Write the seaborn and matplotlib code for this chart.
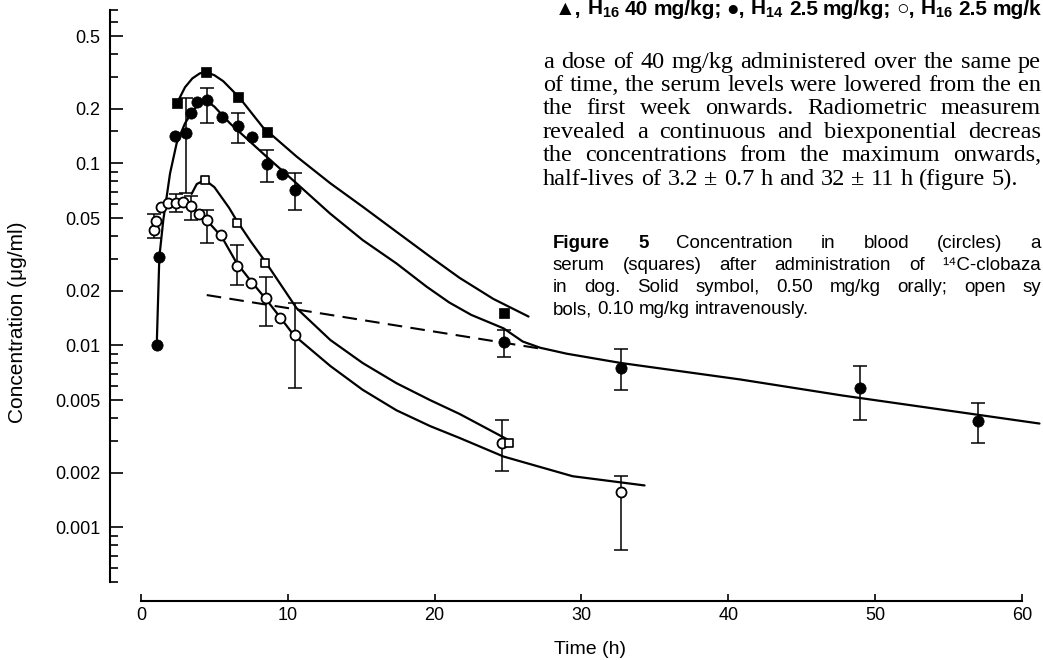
import numpy as np
import pandas as pd
import matplotlib
matplotlib.use("Agg")
import matplotlib.pyplot as plt
import seaborn as sns
from matplotlib.ticker import FixedLocator, FixedFormatter, NullFormatter

# ---------------- data ----------------
# observations: blood (circles) / serum (squares); oral = solid, iv = open
t_blood_oral = [1.07, 1.25, 2.32, 3.07, 3.39, 3.79, 4.48, 5.50, 6.63, 7.58, 8.56, 9.63, 10.50, 24.75, 32.70, 49.0, 57.0]
c_blood_oral = [0.0100, 0.0305, 0.141, 0.146, 0.188, 0.218, 0.223, 0.179, 0.160, 0.140, 0.099, 0.087, 0.0714, 0.0104, 0.00755, 0.0058, 0.00385]

t_serum_oral = [2.43, 4.41, 6.63, 8.60, 24.75]
c_serum_oral = [0.214, 0.319, 0.232, 0.148, 0.0150]

t_blood_iv = [0.89, 1.02, 1.34, 1.86, 2.38, 2.88, 3.39, 3.97, 4.48, 5.43, 6.52, 7.47, 8.49, 9.46, 10.49, 24.60, 32.70]
c_blood_iv = [0.043, 0.0484, 0.0573, 0.0608, 0.0603, 0.0615, 0.0582, 0.0527, 0.0488, 0.0404, 0.0272, 0.0221, 0.0181, 0.0142, 0.0114, 0.00292, 0.00156]

t_serum_iv = [4.36, 6.52, 8.45, 25.07]
c_serum_iv = [0.081, 0.0468, 0.0285, 0.00292]

# error bars (lower / upper limits)
eb_oral_t = [3.07, 4.48, 6.63, 8.56, 10.50, 24.75, 32.70, 49.0, 57.0]
eb_oral_mid = [0.146, 0.223, 0.160, 0.099, 0.0714, 0.0104, 0.00755, 0.0058, 0.00385]
eb_oral_lo = [0.069, 0.166, 0.129, 0.079, 0.0554, 0.0086, 0.0057, 0.0039, 0.0029]
eb_oral_hi = [0.230, 0.258, 0.188, 0.118, 0.088, 0.0122, 0.0096, 0.0077, 0.00484]

eb_iv_t = [0.89, 2.38, 3.39, 4.48, 6.52, 8.49, 10.49, 24.60, 32.70]
eb_iv_mid = [0.043, 0.0603, 0.0582, 0.0488, 0.0272, 0.0181, 0.0114, 0.00292, 0.00156]
eb_iv_lo = [0.039, 0.054, 0.049, 0.0364, 0.0214, 0.0127, 0.0058, 0.00205, 0.00075]
eb_iv_hi = [0.053, 0.068, 0.066, 0.0554, 0.0356, 0.0238, 0.0172, 0.00387, 0.00192]

# fitted curves (traced)
curve_serum_oral_t = [2.5, 3.0, 3.5, 4.0, 4.4, 5.0, 5.6, 6.7, 8.3, 10.6, 12.9, 15.1, 17.4, 19.7, 21.7, 24.0, 26.4]
curve_serum_oral_c = [0.218, 0.262, 0.293, 0.312, 0.318, 0.305, 0.283, 0.230, 0.158, 0.109, 0.0777, 0.0578, 0.0421, 0.0307, 0.0235, 0.0180, 0.0144]

curve_blood_oral_t = [1.07, 1.25, 1.52, 1.98, 2.43, 3.0, 3.56, 4.0, 4.41, 5.0, 6.06, 8.33, 10.6, 12.87, 15.1, 17.4,
                      19.46, 21.0, 22.5, 24.7, 26.0, 27.2, 29.0, 32.7, 40.8, 47.8, 61.2]
curve_blood_oral_c = [0.0098, 0.0305, 0.0488, 0.0881, 0.129, 0.166, 0.196, 0.213, 0.222, 0.205, 0.166, 0.113, 0.0776, 0.0531, 0.0379, 0.0282,
                      0.0210, 0.0172, 0.0147, 0.0124, 0.0105, 0.0097, 0.0090, 0.0080, 0.0065, 0.0053, 0.00372]

curve_blood_iv_t = [3.0, 3.4, 4.0, 4.5, 5.5, 6.5, 7.5, 8.5, 9.5, 10.4, 12.9, 15.1, 17.4, 19.7, 21.7, 24.7, 29.4, 34.3]
curve_blood_iv_c = [0.0612, 0.0585, 0.0527, 0.0485, 0.0395, 0.0285, 0.0225, 0.0180, 0.0142, 0.0114, 0.0077, 0.0057, 0.0044, 0.0036, 0.0031, 0.00245, 0.00191, 0.0017]

curve_serum_iv_t = [3.45, 3.8, 4.36, 5.0, 6.0, 6.52, 7.5, 8.45, 10.6, 12.9, 15.1, 17.4, 19.7, 21.7, 25.1]
curve_serum_iv_c = [0.068, 0.077, 0.081, 0.074, 0.057, 0.0485, 0.037, 0.0290, 0.0160, 0.0107, 0.0080, 0.0062, 0.0050, 0.0042, 0.0030]

dashed_t = [4.48, 27.2]
dashed_c = [0.0189, 0.0096]

ytick_vals = [0.5, 0.2, 0.1, 0.05, 0.02, 0.01, 0.005, 0.002, 0.001]
ytick_labels = ["0.5", "0.2", "0.1", "0.05", "0.02", "0.01", "0.005", "0.002", "0.001"]
yminor_vals = [0.7, 0.6, 0.4, 0.3, 0.15, 0.09, 0.08, 0.07, 0.06, 0.04, 0.03,
               0.009, 0.008, 0.007, 0.006, 0.004, 0.003,
               0.0009, 0.0008, 0.0007, 0.0006, 0.0005]
xtick_vals = [0, 10, 20, 30, 40, 50, 60]

x_label = "Time (h)"
y_label = "Concentration (μg/ml)"

top_line = "▲, H$_{16}$ 40 mg/kg; ●, H$_{14}$ 2.5 mg/kg; ○, H$_{16}$ 2.5 mg/k"
para_lines = [
    ("a dose of 40 mg/kg administered over the same pe", "end"),
    ("of time, the serum levels were lowered from the en", "end"),
    ("the first week onwards. Radiometric measurem", "end"),
    ("revealed a continuous and biexponential decreas", "end"),
    ("the concentrations from the maximum onwards,", "end"),
    ("half-lives of 3.2 ± 0.7 h and 32 ± 11 h (figure 5).", None),
]
caption_lines = [
    ("Figure 5 Concentration in blood (circles) a", "end"),
    ("serum (squares) after administration of ¹⁴C-clobaza", "end"),
    ("in dog. Solid symbol, 0.50 mg/kg orally; open sy", "end"),
    ("bols, 0.10 mg/kg intravenously.", None),
]

# ---------------- figure ----------------
W, H = 1043, 660
sns.set_theme(style="ticks")
plt.rcParams["font.family"] = ["Liberation Sans", "DejaVu Sans"]
plt.rcParams["mathtext.fontset"] = "custom"
plt.rcParams["mathtext.rm"] = "Liberation Sans:bold"
plt.rcParams["mathtext.it"] = "Liberation Sans:bold"
plt.rcParams["mathtext.bf"] = "Liberation Sans:bold"

fig = plt.figure(figsize=(W / 100, H / 100), dpi=100)
fig.patch.set_facecolor("white")
ax = fig.add_axes([110 / W, 59 / H, 933 / W, 601 / H])
ax.set_facecolor("white")
ax.set_yscale("log")

curves = pd.concat([
    pd.DataFrame({"t": curve_serum_oral_t, "c": curve_serum_oral_c, "curve": "serum_oral"}),
    pd.DataFrame({"t": curve_blood_oral_t, "c": curve_blood_oral_c, "curve": "blood_oral"}),
    pd.DataFrame({"t": curve_blood_iv_t, "c": curve_blood_iv_c, "curve": "blood_iv"}),
    pd.DataFrame({"t": curve_serum_iv_t, "c": curve_serum_iv_c, "curve": "serum_iv"}),
])
for name, sub in curves.groupby("curve"):
    sns.lineplot(data=sub, x="t", y="c", color="black", linewidth=1.6, sort=False,
                 estimator=None, ax=ax, zorder=2)
sns.lineplot(x=dashed_t, y=dashed_c, color="black", linewidth=1.5,
             linestyle=(0, (7, 4)), ax=ax, zorder=2)

def errbars(t, mid, lo, hi):
    mid = np.asarray(mid); lo = np.asarray(lo); hi = np.asarray(hi)
    ax.errorbar(t, mid, yerr=[mid - lo, hi - mid], fmt="none", ecolor="black",
                elinewidth=1.1, capsize=5, capthick=1.1, zorder=1)

errbars(eb_oral_t, eb_oral_mid, eb_oral_lo, eb_oral_hi)
errbars(eb_iv_t, eb_iv_mid, eb_iv_lo, eb_iv_hi)

sns.scatterplot(x=t_blood_oral, y=c_blood_oral, marker="o", s=66, color="black",
                edgecolor="black", linewidth=0.5, ax=ax, zorder=4)
sns.scatterplot(x=t_serum_oral, y=c_serum_oral, marker="s", s=46, color="black",
                edgecolor="black", linewidth=0.5, ax=ax, zorder=4)
sns.scatterplot(x=t_blood_iv, y=c_blood_iv, marker="o", s=52, color="white",
                edgecolor="black", linewidth=1.3, ax=ax, zorder=4)
sns.scatterplot(x=t_serum_iv, y=c_serum_iv, marker="s", s=40, color="white",
                edgecolor="black", linewidth=1.2, ax=ax, zorder=4)

ax.set_xlim(-2.11, 61.44)
ax.set_ylim(0.000394, 0.79)

ax.yaxis.set_major_locator(FixedLocator(ytick_vals))
ax.yaxis.set_major_formatter(FixedFormatter(ytick_labels))
ax.yaxis.set_minor_locator(FixedLocator(yminor_vals))
ax.yaxis.set_minor_formatter(NullFormatter())
ax.set_xticks(xtick_vals)
ax.set_xticklabels([str(v) for v in xtick_vals])
ax.xaxis.set_minor_locator(FixedLocator([]))

ax.tick_params(axis="y", which="major", direction="in", length=9, width=1.2,
               labelsize=13, pad=7, colors="black")
ax.tick_params(axis="y", which="minor", direction="in", length=6, width=1.2, colors="black")
ax.tick_params(axis="x", which="major", direction="in", length=5, width=1.2,
               labelsize=13, pad=4, colors="black")

for side in ("top", "right"):
    ax.spines[side].set_visible(False)
ax.spines["left"].set_bounds(0.0005, 0.7)
ax.spines["bottom"].set_bounds(0, 60)
for side in ("left", "bottom"):
    ax.spines[side].set_linewidth(1.5)
    ax.spines[side].set_color("black")

ax.set_xlabel(x_label, fontsize=14, color="black")
ax.set_ylabel(y_label, fontsize=15, color="black")
ax.xaxis.set_label_coords((590 - 110) / 933, -(641 - 601) / 601)
ax.yaxis.set_label_coords((27 - 110) / 933, (601 - 322) / 601)

# ---------------- page text ----------------
renderer = fig.canvas.get_renderer()
RIGHT = 1041

def place_line(text, mode, x0, y_base, size, family, bold_words=0):
    words = text.split(" ")
    objs = []
    for i, w in enumerate(words):
        objs.append(fig.text(0, 0, w, fontsize=size, family=family,
                             fontweight="bold" if i < bold_words else "normal",
                             ha="left", va="baseline", color="black"))
    widths = [o.get_window_extent(renderer).width for o in objs]
    n = len(words)
    natural = size * 100 / 72 * 0.26
    if mode == "end":
        gap = max((RIGHT - x0 - sum(widths)) / (n - 1), 0.85 * natural)
    else:
        gap = natural
    x = x0
    for o, wd in zip(objs, widths):
        o.set_position((x / W, 1 - y_base / H))
        x += wd + gap

serif = ["Liberation Serif", "DejaVu Serif"]
sans = ["Liberation Sans", "DejaVu Sans"]

place_line(top_line, "end", 555, 15, 15, sans, bold_words=100)

para_base = [68, 91, 114.5, 138, 161.5, 185]
for (txt, mode), yb in zip(para_lines, para_base):
    place_line(txt, mode, 543, yb, 17.5, serif)

cap_base = [248, 270, 292, 314]
for i, ((txt, mode), yb) in enumerate(zip(caption_lines, cap_base)):
    place_line(txt, mode, 553, yb, 13.5, sans, bold_words=2 if i == 0 else 0)

fig.savefig("out.png", dpi=100, facecolor="white")
